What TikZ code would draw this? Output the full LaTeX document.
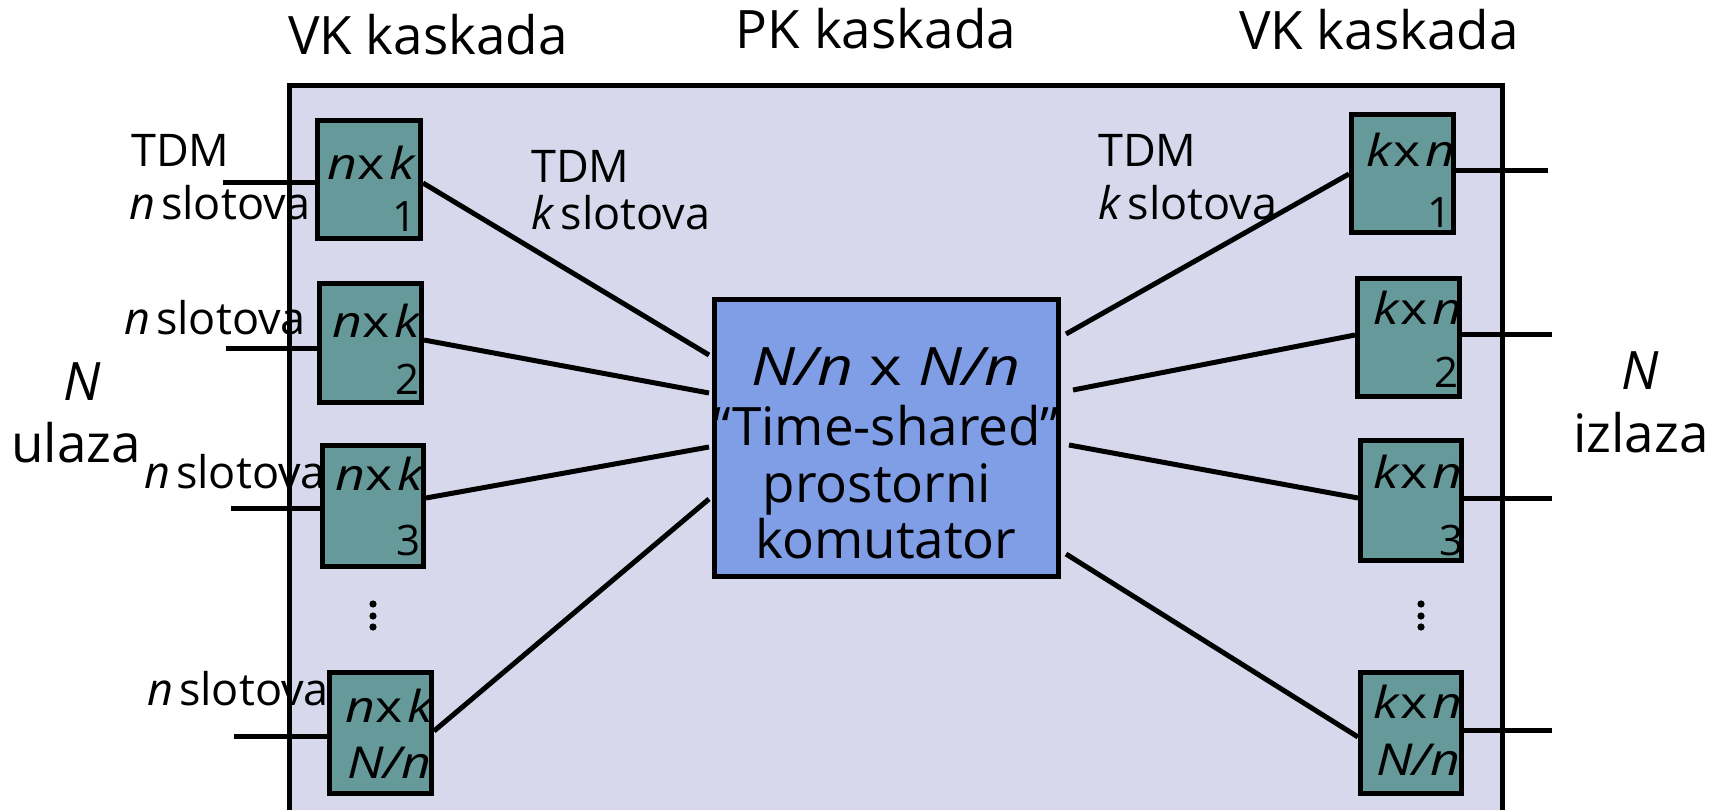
\documentclass[tikz,border=0pt]{standalone}
\usepackage{fontspec}
\usepackage{graphicx}
\setmainfont{Open Sans}
\definecolor{lav}{HTML}{D8D8EC}
\definecolor{tealbox}{HTML}{669999}
\definecolor{swblue}{HTML}{7F9EE6}
\newcommand{\widetxt}[1]{\scalebox{1.18}[1]{#1}}
\begin{document}
\begin{tikzpicture}[x=1pt,y=-1pt,
  sbox/.style={draw, line width=5pt, fill=tealbox, inner sep=0pt},
  conn/.style={line width=5pt},
  big/.style={font=\fontsize{53}{60}\selectfont, inner sep=0pt},
  mid/.style={font=\fontsize{45}{54}\selectfont, inner sep=0pt},
  blab/.style={font=\fontsize{44}{50}\selectfont, inner sep=0pt},
  numl/.style={font=\fontsize{42}{50}\selectfont, inner sep=0pt}]
\useasboundingbox (0,0) rectangle (1709,810);
\clip (0,0) rectangle (1709,810);
\fill[white] (0,0) rectangle (1709,810);
\draw[line width=5pt, fill=lav] (289,86) rectangle (1502,840);

% left boxes
\node[sbox, minimum width=103pt, minimum height=118pt] (l1) at (369,179.5) {};
\node[sbox, minimum width=102pt, minimum height=119pt] (l2) at (370.5,343) {};
\node[sbox, minimum width=101pt, minimum height=121pt] (l3) at (373,506) {};
\node[sbox, minimum width=102pt, minimum height=121pt] (l4) at (380.5,733) {};
% right boxes
\node[sbox, minimum width=102pt, minimum height=118pt] (r1) at (1402.5,173.5) {};
\node[sbox, minimum width=102pt, minimum height=118pt] (r2) at (1408.5,337.5) {};
\node[sbox, minimum width=101pt, minimum height=120pt] (r3) at (1411,500.5) {};
\node[sbox, minimum width=101pt, minimum height=121pt] (r4) at (1411,733) {};
% switch
\node[draw, line width=5pt, fill=swblue, inner sep=0pt, minimum width=344pt, minimum height=277pt] (sw) at (886.5,438) {};

% connectors left
\draw[conn] ([yshift=-3.5pt]l1.east) -- ([xshift=-3pt,yshift=83pt]sw.west);
\draw[conn] ([yshift=3pt]l2.east) -- ([xshift=-3pt,yshift=45pt]sw.west);
\draw[conn] ([yshift=8pt]l3.east) -- ([xshift=-3pt,yshift=-9pt]sw.west);
\draw[conn] ([yshift=2pt]l4.east) -- ([xshift=-3pt,yshift=-61pt]sw.west);
% connectors right
\draw[conn] ([xshift=5pt,yshift=104pt]sw.east) -- ([yshift=-0.5pt]r1.west);
\draw[conn] ([xshift=12pt,yshift=48pt]sw.east) -- ([yshift=2.5pt]r2.west);
\draw[conn] ([xshift=8pt,yshift=-7pt]sw.east) -- ([yshift=2.5pt]r3.west);
\draw[conn] ([xshift=5pt,yshift=-116pt]sw.east) -- ([yshift=-4pt]r4.west);

% input stubs
\coordinate (i1) at (223,183);
\coordinate (i2) at (226,349);
\coordinate (i3) at (231,508);
\coordinate (i4) at (234,736);
\draw[conn] (i1) -- (i1 -| l1.west);
\draw[conn] (i2) -- (i2 -| l2.west);
\draw[conn] (i3) -- (i3 -| l3.west);
\draw[conn] (i4) -- (i4 -| l4.west);
% output stubs
\coordinate (o1) at (1548,171);
\coordinate (o2) at (1552,335);
\coordinate (o3) at (1552,498);
\coordinate (o4) at (1552,730);
\draw[conn] (o1 -| r1.east) -- (o1);
\draw[conn] (o2 -| r2.east) -- (o2);
\draw[conn] (o3 -| r3.east) -- (o3);
\draw[conn] (o4 -| r4.east) -- (o4);

% box labels
\node[blab, anchor=base] (tl1) at (372,180) {\widetxt{\textit{n}x\hspace{4pt}\textit{k}}};
\node[numl, anchor=base east] (nl1) at (417,232) {1};
\node[blab, anchor=base] (tl2) at (377,338) {\widetxt{\textit{n}x\hspace{4pt}\textit{k}}};
\node[numl, anchor=base east] (nl2) at (420,395) {2};
\node[blab, anchor=base] (tl3) at (380,490) {\widetxt{\textit{n}x\hspace{4pt}\textit{k}}};
\node[numl, anchor=base east] (nl3) at (421,555) {3};
\node[blab, anchor=base] (tl4) at (390,722) {\widetxt{\textit{n}x\hspace{4pt}\textit{k}}};
\node[blab, anchor=base east] (nl4) at (432,778) {\widetxt{\textit{N/n}}};

\node[blab, anchor=base] (tr1) at (1411,167) {\widetxt{\textit{k}x\hspace{4pt}\textit{n}}};
\node[numl, anchor=base east] (nr1) at (1452,228) {1};
\node[blab, anchor=base] (tr2) at (1418,325) {\widetxt{\textit{k}x\hspace{4pt}\textit{n}}};
\node[numl, anchor=base east] (nr2) at (1459,388) {2};
\node[blab, anchor=base] (tr3) at (1418,488) {\widetxt{\textit{k}x\hspace{4pt}\textit{n}}};
\node[numl, anchor=base east] (nr3) at (1464,555) {3};
\node[blab, anchor=base] (tr4) at (1418,718) {\widetxt{\textit{k}x\hspace{4pt}\textit{n}}};
\node[blab, anchor=base east] (nr4) at (1461,775) {\widetxt{\textit{N/n}}};

% switch text
\node[big, anchor=base] (s1) at (886,385) {\widetxt{\textit{N/n} x \textit{N/n}}};
\node[big, anchor=base] (s2) at (886,445) {“Time-shared”};
\node[big, anchor=base] (s3) at (877,502) {prostorni};
\node[big, anchor=base] (s4) at (886,558) {komutator};

% titles
\node[big, anchor=base] (h1) at (428,55) {VK kaskada};
\node[big, anchor=base] (h2) at (876,49) {PK kaskada};
\node[big, anchor=base] (h3) at (1379,50) {VK kaskada};

% side labels
\node[big, anchor=base] (nL) at (82,400) {\textit{N}};
\node[big, anchor=base] (uL) at (76,462) {ulaza};
\node[big, anchor=base] (nR) at (1640,390) {\textit{N}};
\node[big, anchor=base] (iR) at (1641,452) {izlaza};

% TDM labels
\node[mid, anchor=base west] (td1) at (131,167) {TDM};
\node[mid, anchor=base west] (ns1) at (129,220) {\textit{n}\hspace{6pt}slotova};
\node[mid, anchor=base west] (ns2) at (124,335) {\textit{n}\hspace{6pt}slotova};
\node[mid, anchor=base west] (ns3) at (144,488) {\textit{n}\hspace{6pt}slotova};
\node[mid, anchor=base west] (ns4) at (147,705) {\textit{n}\hspace{6pt}slotova};
\node[mid, anchor=base west] (td2) at (531,183) {TDM};
\node[mid, anchor=base west] (ks2) at (531,230) {\textit{k}\hspace{6pt}slotova};
\node[mid, anchor=base west] (td3) at (1098,167) {TDM};
\node[mid, anchor=base west] (ks3) at (1098,220) {\textit{k}\hspace{6pt}slotova};

% vertical dots
\foreach \yy in {604,616,627} {
  \fill (373,\yy) circle (3.6pt);
  \fill (1421,\yy) circle (3.6pt);
}
\end{tikzpicture}
\end{document}
